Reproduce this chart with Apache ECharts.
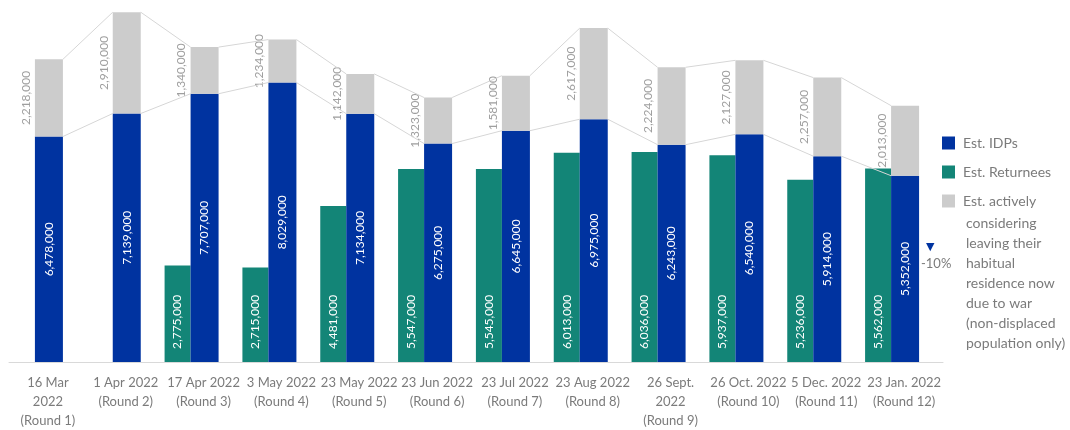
<!DOCTYPE html>
<html>
<head>
<meta charset="utf-8">
<script src="https://cdn.jsdelivr.net/npm/echarts@6/dist/echarts.min.js"></script>
<style>
  html, body { margin: 0; padding: 0; background: #ffffff; }
  #chart { width: 1070px; height: 430px; }
</style>
</head>
<body>
<div id="chart"></div>
<script>
// Survey rounds
const rounds = [
  '16 Mar\n2022\n(Round 1)', '1 Apr 2022\n(Round 2)', '17 Apr 2022\n(Round 3)',
  '3 May 2022\n(Round 4)', '23 May 2022\n(Round 5)', '23 Jun 2022\n(Round 6)',
  '23 Jul 2022\n(Round 7)', '23 Aug 2022\n(Round 8)', '26 Sept.\n2022\n(Round 9)',
  '26 Oct. 2022\n(Round 10)', '5 Dec. 2022\n(Round 11)', '23 Jan. 2022\n(Round 12)'
];
// Estimated internally displaced persons
const idps = [6478000, 7139000, 7707000, 8029000, 7134000, 6275000, 6645000, 6975000, 6243000, 6540000, 5914000, 5352000];
// Estimated returnees (not measured in the first two rounds)
const returnees = [null, null, 2775000, 2715000, 4481000, 5547000, 5545000, 6013000, 6036000, 5937000, 5236000, 5562000];
// Estimated non-displaced population actively considering leaving
const considering = [2218000, 2910000, 1340000, 1234000, 1142000, 1323000, 1581000, 2617000, 2224000, 2127000, 2257000, 2013000];

const nameIdp = 'Est. IDPs';
const nameRet = 'Est. Returnees';
const consideringLines = ['Est. actively', 'considering', 'leaving their', 'habitual', 'residence now', 'due to war', '(non-displaced', 'population only)'];
const nameConsidering = consideringLines.join(' ');
const changeNote = '-10%';

const BLUE = '#0033a0';
const TEAL = '#138577';
const GREY = '#cccccc';
const LINE = '#d6d6d6';
const TEXT = '#7b7b7b';
const FONT = 'Lato, "Open Sans", sans-serif';

// slot widths in each category: returnees | IDPs(+considering) | empty spacer
const TEAL_W = 26, BLUE_W = 28, SPACER_W = 24;
const BLUE_LEFT = -(TEAL_W + BLUE_W + SPACER_W) / 2 + TEAL_W; // offset of IDP bar left edge from category centre

const fmt = v => v.toLocaleString('en-US');

// segments joining successive IDP tops and stacked totals
const linkData = idps.slice(0, -1).map((v, i) => [
  i, v, v + considering[i], idps[i + 1], idps[i + 1] + considering[i + 1]
]);

const chart = echarts.init(document.getElementById('chart'), null, { renderer: 'canvas' });

chart.setOption({
  animation: false,
  textStyle: { fontFamily: FONT },
  grid: { left: 9, right: 127, top: 0, bottom: 65, containLabel: false },
  legend: {
    orient: 'vertical',
    left: 942,
    top: 136,
    padding: 0,
    itemWidth: 13,
    itemHeight: 13,
    itemGap: 15,
    icon: 'rect',
    selectedMode: false,
    data: [nameIdp, nameRet, nameConsidering],
    formatter: name => name === nameConsidering ? consideringLines[0] : name,
    textStyle: { color: TEXT, fontSize: 14, fontFamily: FONT, padding: [0, 0, 0, 3] }
  },
  graphic: [
    {
      type: 'text', left: 966, top: 213,
      style: { text: consideringLines.slice(1).join('\n'), fill: TEXT, font: '14px ' + FONT, lineHeight: 20 }
    },
    {
      type: 'text', left: 926, top: 242,
      style: { text: '▼', fill: BLUE, font: '11px "DejaVu Sans", sans-serif' }
    },
    {
      type: 'text', left: 921, top: 257,
      style: { text: changeNote, fill: TEXT, font: '13px ' + FONT }
    }
  ],
  xAxis: {
    type: 'category',
    data: rounds,
    axisLine: { show: true, lineStyle: { color: '#d9d9d9', width: 1 } },
    axisTick: { show: false },
    axisLabel: { interval: 0, color: TEXT, fontSize: 13, lineHeight: 19, margin: 11, fontFamily: FONT }
  },
  yAxis: { type: 'value', min: 0, max: 10400000, show: false, splitLine: { show: false } },
  series: [
    {
      name: nameRet, type: 'bar', data: returnees, barWidth: TEAL_W, barGap: '0%',
      itemStyle: { color: TEAL },
      label: {
        show: true, position: 'insideBottom', distance: 13, rotate: 90,
        align: 'left', verticalAlign: 'middle',
        color: '#ffffff', fontSize: 12, fontFamily: FONT, formatter: p => fmt(p.value)
      }
    },
    {
      name: nameIdp, type: 'bar', stack: 'total', data: idps, barWidth: BLUE_W, barGap: '0%',
      itemStyle: { color: BLUE },
      label: {
        show: true, position: 'inside', rotate: 90,
        color: '#ffffff', fontSize: 12, fontFamily: FONT, formatter: p => fmt(p.value)
      }
    },
    {
      name: nameConsidering, type: 'bar', stack: 'total', data: considering, barWidth: BLUE_W, barGap: '0%',
      itemStyle: { color: GREY },
      label: {
        show: true, position: 'left', distance: 3, rotate: 90,
        align: 'center', verticalAlign: 'bottom',
        color: '#9f9f9f', fontSize: 12, fontFamily: FONT, formatter: p => fmt(p.value)
      }
    },
    {
      name: 'spacer', type: 'bar', data: rounds.map(() => null), barWidth: SPACER_W, barGap: '0%',
      silent: true
    },
    {
      type: 'custom', z: 5, silent: true,
      data: linkData,
      encode: { x: 0, y: [1, 2, 3, 4] },
      renderItem: (params, api) => {
        const i = api.value(0);
        const a0 = api.coord([i, api.value(1)]);
        const b0 = api.coord([i, api.value(2)]);
        const a1 = api.coord([i + 1, api.value(3)]);
        const b1 = api.coord([i + 1, api.value(4)]);
        const style = { stroke: LINE, lineWidth: 1, fill: null };
        return {
          type: 'group',
          children: [
            { type: 'line', shape: { x1: a0[0] + BLUE_LEFT + BLUE_W, y1: a0[1], x2: a1[0] + BLUE_LEFT, y2: a1[1] }, style },
            { type: 'line', shape: { x1: b0[0] + BLUE_LEFT + BLUE_W, y1: b0[1], x2: b1[0] + BLUE_LEFT, y2: b1[1] }, style }
          ]
        };
      }
    }
  ]
});
</script>
</body>
</html>
